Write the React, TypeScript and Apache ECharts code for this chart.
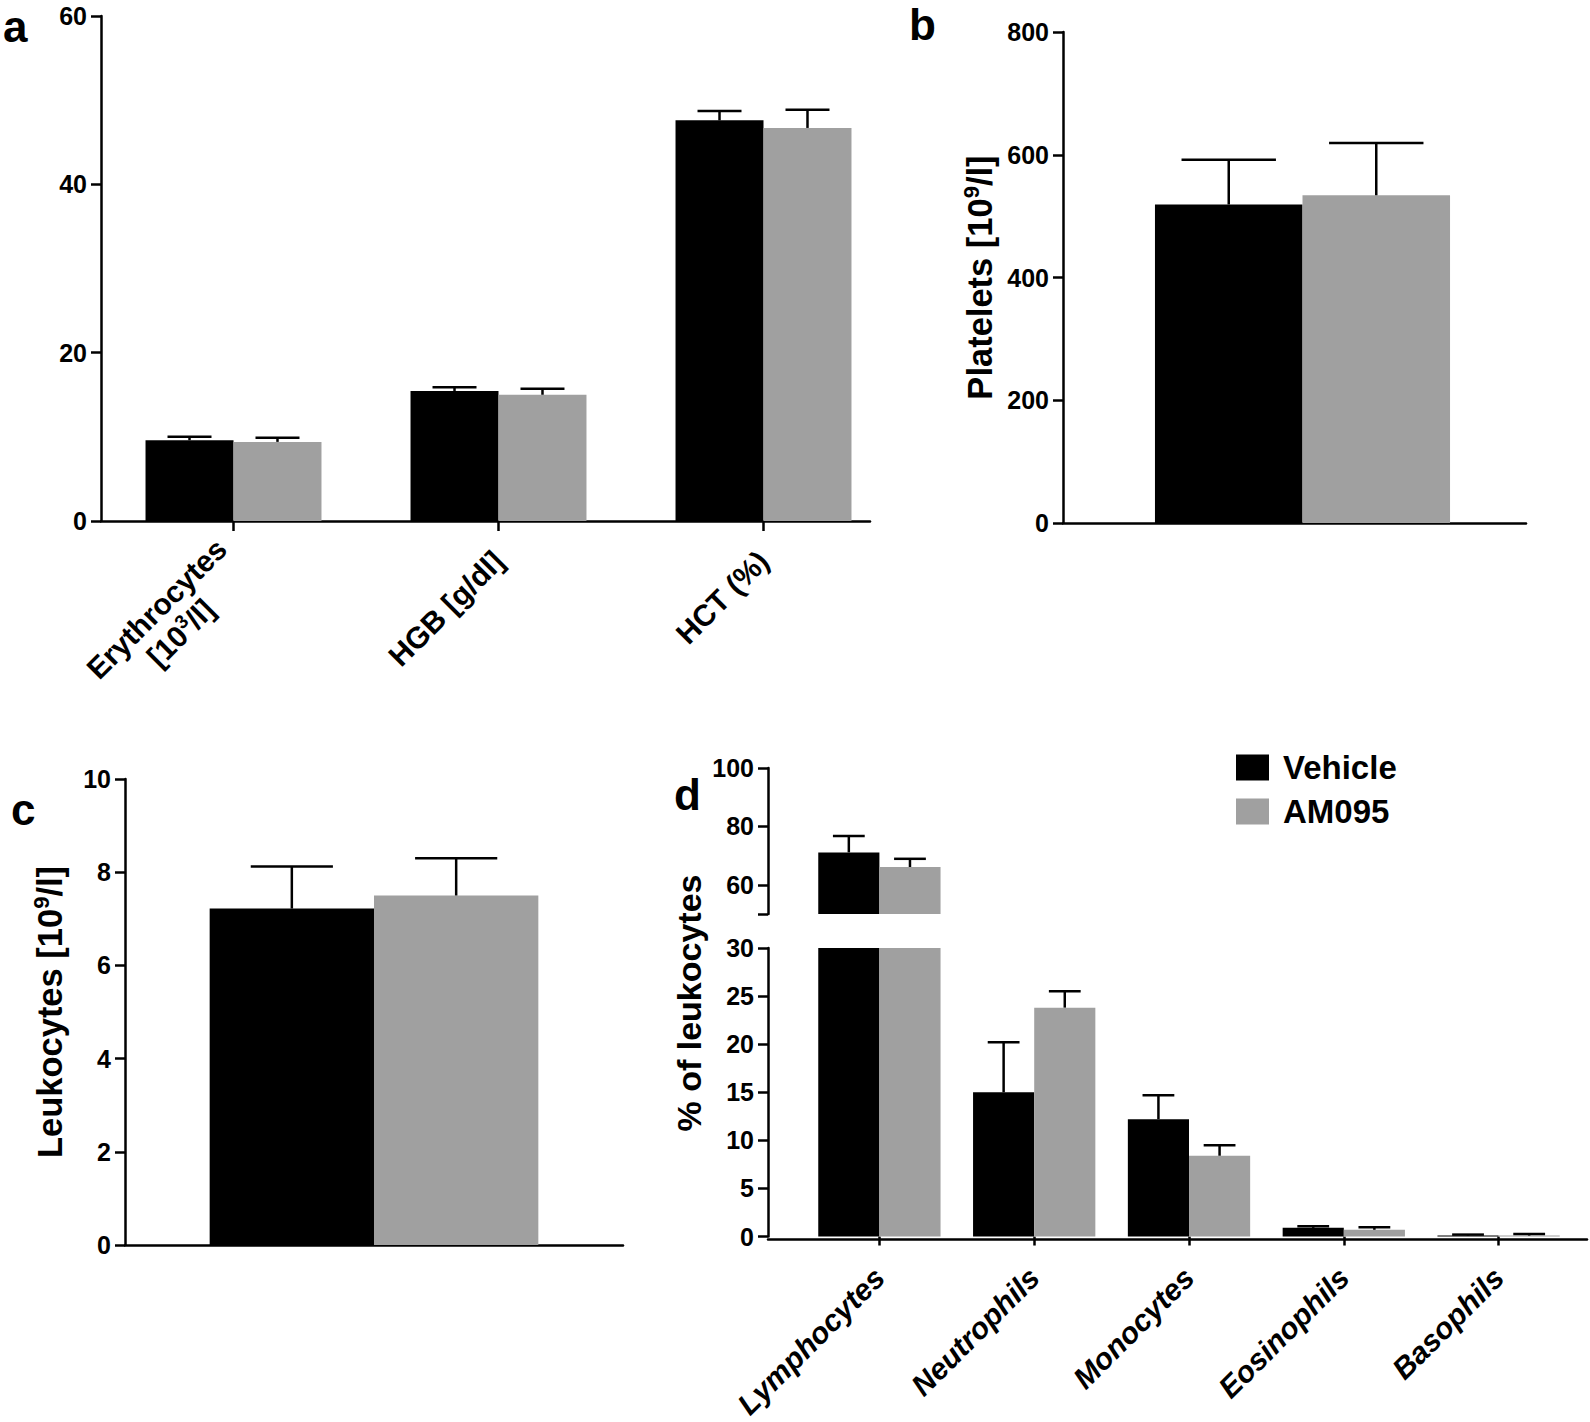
import React, { useEffect, useRef } from 'react';
import * as echarts from 'echarts';

const FONT = '"Liberation Sans", Arial, Helvetica, sans-serif';
const BLACK = '#000000';
const GRAY = '#a0a0a0';

// ---- Panel a ----
const catsA = ['Erythrocytes\n[10^3/l]', 'HGB [g/dl]', 'HCT (%)'];
const vehicleA = [9.6, 15.45, 47.6];
const vehicleAErr = [0.4, 0.45, 1.1];
const am095A = [9.4, 15.0, 46.7];
const am095AErr = [0.5, 0.7, 2.15];
const yTicksA = [0, 20, 40, 60];

// ---- Panel b ----
const catsB = ['Platelets'];
const vehicleB = [519];
const vehicleBErr = [73];
const am095B = [534];
const am095BErr = [85];
const yTicksB = [0, 200, 400, 600, 800];
const titleB = 'Platelets [10^9/l]';

// ---- Panel c ----
const catsC = ['Leukocytes'];
const vehicleC = [7.22];
const vehicleCErr = [0.9];
const am095C = [7.5];
const am095CErr = [0.8];
const yTicksC = [0, 2, 4, 6, 8, 10];
const titleC = 'Leukocytes [10^9/l]';

// ---- Panel d (broken axis) ----
const catsD = ['Lymphocytes', 'Neutrophils', 'Monocytes', 'Eosinophils', 'Basophils'];
const vehicleD = [71.1, 15.0, 12.2, 0.9, 0.1];
const vehicleDErr = [5.6, 5.2, 2.5, 0.16, 0.1];
const am095D = [66.1, 23.8, 8.4, 0.7, 0.1];
const am095DErr = [2.8, 1.7, 1.1, 0.27, 0.17];
const yRangeDUpper = [50, 100];
const yTickMarksDUpper = [50, 60, 80, 100];
const yTickLabelsDUpper = [60, 80, 100];
const yTicksDLower = [0, 5, 10, 15, 20, 25, 30];
const titleD = '% of leukocytes';

const seriesNames = ['Vehicle', 'AM095'];
const panelLetters = ['a', 'b', 'c', 'd'];

function toRich(s: string): string {
  return s
    .split('\n')
    .map((line) =>
      line
        .split(/(\^\d+)/)
        .filter((p) => p.length > 0)
        .map((p) => (p[0] === '^' ? `{s|${p.slice(1)}}` : `{c|${p}}`))
        .join('')
    )
    .join('\n');
}

function richStyles(size: number, supSize: number, italic = false) {
  return {
    c: {
      fontSize: size,
      fontWeight: 'bold',
      fontFamily: FONT,
      fontStyle: italic ? 'italic' : 'normal',
      color: BLACK,
      align: 'center',
      lineHeight: Math.round(size * 1.12),
    },
    s: {
      fontSize: supSize,
      fontWeight: 'bold',
      fontFamily: FONT,
      color: BLACK,
      align: 'center',
      verticalAlign: 'top',
      lineHeight: Math.round(supSize * 1.05),
    },
  };
}

const axisLineStyle = { color: BLACK, width: 2.5 };
const tickLabel = { color: BLACK, fontFamily: FONT, fontWeight: 'bold', fontSize: 25, margin: 14 };

function yAxisDef(gridIndex: number, min: number, max: number, tickVals: number[], labelVals: number[], extra: any = {}) {
  return {
    type: 'value',
    gridIndex,
    min,
    max,
    axisLine: { show: true, lineStyle: axisLineStyle },
    axisTick: { show: true, length: 10, lineStyle: axisLineStyle, customValues: tickVals },
    axisLabel: { ...tickLabel, customValues: labelVals },
    splitLine: { show: false },
    ...extra,
  };
}

function errRender(side: number, gapFrac: number, capFrac: number, ok?: (m: number, e: number) => boolean) {
  return (params: any, api: any) => {
    const idx = api.value(0);
    const m = api.value(1);
    const e = api.value(2);
    if (ok && !ok(m, e)) return null;
    const band = api.size([1, 0])[0];
    const bw = (band * (1 - gapFrac)) / 2;
    const p0 = api.coord([idx, m]);
    const p1 = api.coord([idx, m + e]);
    const x = p0[0] + (side * bw) / 2;
    const hw = (bw * capFrac) / 2;
    const st = { stroke: BLACK, lineWidth: 2.5 };
    return {
      type: 'group',
      children: [
        { type: 'line', shape: { x1: x, y1: p0[1], x2: x, y2: p1[1] }, style: st },
        { type: 'line', shape: { x1: x - hw, y1: p1[1], x2: x + hw, y2: p1[1] }, style: st },
      ],
    };
  };
}

function panelSeries(
  axisIndex: number,
  veh: number[],
  vehErr: number[],
  am: number[],
  amErr: number[],
  gap: number,
  capFrac: number,
  ok?: (m: number, e: number) => boolean
) {
  const gapStr = `${(gap * 100).toFixed(1)}%`;
  return [
    {
      name: seriesNames[0],
      type: 'bar',
      xAxisIndex: axisIndex,
      yAxisIndex: axisIndex,
      data: veh,
      barGap: '0%',
      barCategoryGap: gapStr,
      itemStyle: { color: BLACK },
      clip: true,
    },
    {
      name: seriesNames[1],
      type: 'bar',
      xAxisIndex: axisIndex,
      yAxisIndex: axisIndex,
      data: am,
      barGap: '0%',
      barCategoryGap: gapStr,
      itemStyle: { color: GRAY },
      clip: true,
    },
    {
      name: 'err-v-' + axisIndex,
      type: 'custom',
      xAxisIndex: axisIndex,
      yAxisIndex: axisIndex,
      z: 5,
      encode: { x: 0, y: 1 },
      data: veh.map((v, i) => [i, v, vehErr[i]]),
      renderItem: errRender(-1, gap, capFrac, ok),
    },
    {
      name: 'err-a-' + axisIndex,
      type: 'custom',
      xAxisIndex: axisIndex,
      yAxisIndex: axisIndex,
      z: 5,
      encode: { x: 0, y: 1 },
      data: am.map((v, i) => [i, v, amErr[i]]),
      renderItem: errRender(1, gap, capFrac, ok),
    },
  ];
}

// plain horizontal axis line (Prism style x-axis extent), no ticks or labels
function lineXAxis(gridIndex: number) {
  return {
    type: 'value',
    gridIndex,
    min: 0,
    max: 1,
    axisLine: { show: true, onZero: false, lineStyle: axisLineStyle },
    axisTick: { show: false },
    axisLabel: { show: false },
    splitLine: { show: false },
  };
}
function hiddenYAxis(gridIndex: number) {
  return { type: 'value', gridIndex, show: false, min: 0, max: 1 };
}

export default function App() {
  const ref = useRef<HTMLDivElement>(null);

  useEffect(() => {
    if (!ref.current) return;
    const chart = echarts.init(ref.current, null, { renderer: 'svg' });

    const catAxisBase = {
      type: 'category',
      axisLine: { show: false, onZero: false, lineStyle: axisLineStyle },
      splitLine: { show: false },
    };

    const option: any = {
      animation: false,
      backgroundColor: '#ffffff',
      grid: [
        { left: 101, top: 16, width: 795, height: 505 },
        { left: 1063, top: 32, width: 479, height: 491 },
        { left: 125, top: 779, width: 498, height: 466 },
        { left: 802, top: 768, width: 774, height: 146 },
        { left: 802, top: 948, width: 774, height: 291 },
        { left: 768, top: 1238, width: 819, height: 1 },
        { left: 101, top: 520, width: 769, height: 1 },
        { left: 1063, top: 522, width: 463, height: 1 },
        { left: 125, top: 1244, width: 498, height: 1 },
      ],
      xAxis: [
        {
          ...catAxisBase,
          gridIndex: 0,
          data: catsA,
          axisTick: { show: true, alignWithLabel: true, length: 10, lineStyle: axisLineStyle },
          axisLabel: {
            interval: 0,
            rotate: 45,
            margin: 35,
            formatter: (v: string) => toRich(v),
            rich: richStyles(30, 19),
          },
        },
        {
          ...catAxisBase,
          gridIndex: 1,
          data: catsB,
          axisTick: { show: false },
          axisLabel: { show: false },
        },
        {
          ...catAxisBase,
          gridIndex: 2,
          data: catsC,
          axisTick: { show: false },
          axisLabel: { show: false },
        },
        {
          ...catAxisBase,
          gridIndex: 3,
          data: catsD,
          show: false,
        },
        {
          ...catAxisBase,
          gridIndex: 4,
          data: catsD,
          axisTick: { show: true, alignWithLabel: true, length: 9, lineStyle: axisLineStyle },
          axisLabel: {
            interval: 0,
            rotate: 45,
            margin: 36,
            formatter: (v: string) => toRich(v),
            rich: richStyles(30, 19, true),
          },
        },
        lineXAxis(5),
        lineXAxis(6),
        lineXAxis(7),
        lineXAxis(8),
      ],
      yAxis: [
        yAxisDef(0, yTicksA[0], yTicksA[yTicksA.length - 1], yTicksA, yTicksA),
        yAxisDef(1, yTicksB[0], yTicksB[yTicksB.length - 1], yTicksB, yTicksB, {
          name: toRich(titleB),
          nameLocation: 'middle',
          nameGap: 64,
          nameTextStyle: { rich: richStyles(34.5, 22) },
        }),
        yAxisDef(2, yTicksC[0], yTicksC[yTicksC.length - 1], yTicksC, yTicksC, {
          name: toRich(titleC),
          nameLocation: 'middle',
          nameGap: 56,
          nameTextStyle: { rich: richStyles(34.5, 22) },
        }),
        yAxisDef(3, yRangeDUpper[0], yRangeDUpper[1], yTickMarksDUpper, yTickLabelsDUpper, { offset: 34 }),
        yAxisDef(4, yTicksDLower[0], yTicksDLower[yTicksDLower.length - 1], yTicksDLower, yTicksDLower, { offset: 34 }),
        hiddenYAxis(5),
        hiddenYAxis(6),
        hiddenYAxis(7),
        hiddenYAxis(8),
      ],
      legend: {
        data: seriesNames,
        orient: 'vertical',
        left: 1231,
        top: 745,
        itemWidth: 33,
        itemHeight: 26,
        itemGap: 9,
        icon: 'rect',
        selectedMode: false,
        textStyle: {
          color: BLACK,
          fontFamily: FONT,
          fontWeight: 'bold',
          fontSize: 33,
          lineHeight: 35,
          padding: [0, 0, 0, 9],
        },
      },
      graphic: [
        {
          type: 'text',
          x: 3,
          y: 26,
          style: { text: panelLetters[0], font: `bold 44px ${FONT}`, fill: BLACK, textVerticalAlign: 'middle' },
        },
        {
          type: 'text',
          x: 909,
          y: 24,
          style: { text: panelLetters[1], font: `bold 44px ${FONT}`, fill: BLACK, textVerticalAlign: 'middle' },
        },
        {
          type: 'text',
          x: 11,
          y: 809,
          style: { text: panelLetters[2], font: `bold 44px ${FONT}`, fill: BLACK, textVerticalAlign: 'middle' },
        },
        {
          type: 'text',
          x: 674,
          y: 794,
          style: { text: panelLetters[3], font: `bold 44px ${FONT}`, fill: BLACK, textVerticalAlign: 'middle' },
        },
        {
          type: 'text',
          x: 689,
          y: 1003,
          rotation: Math.PI / 2,
          style: {
            text: titleD,
            font: `bold 34px ${FONT}`,
            fill: BLACK,
            textAlign: 'center',
            textVerticalAlign: 'middle',
          },
        },
      ],
      series: [
        ...panelSeries(0, vehicleA, vehicleAErr, am095A, am095AErr, 0.336, 0.5),
        ...panelSeries(1, vehicleB, vehicleBErr, am095B, am095BErr, 0.384, 0.64),
        ...panelSeries(2, vehicleC, vehicleCErr, am095C, am095CErr, 0.34, 0.5),
        ...panelSeries(3, vehicleD, vehicleDErr, am095D, am095DErr, 0.21, 0.52, (m) => m >= yRangeDUpper[0]),
        ...panelSeries(
          4,
          vehicleD,
          vehicleDErr,
          am095D,
          am095DErr,
          0.21,
          0.52,
          (m, e) => m + e <= yTicksDLower[yTicksDLower.length - 1]
        ),
      ],
    };

    chart.setOption(option);
    return () => {
      chart.dispose();
    };
  }, []);

  return (
    <div
      ref={ref}
      style={{ position: 'absolute', left: 0, top: 0, width: 1590, height: 1422, background: '#fff' }}
    />
  );
}
